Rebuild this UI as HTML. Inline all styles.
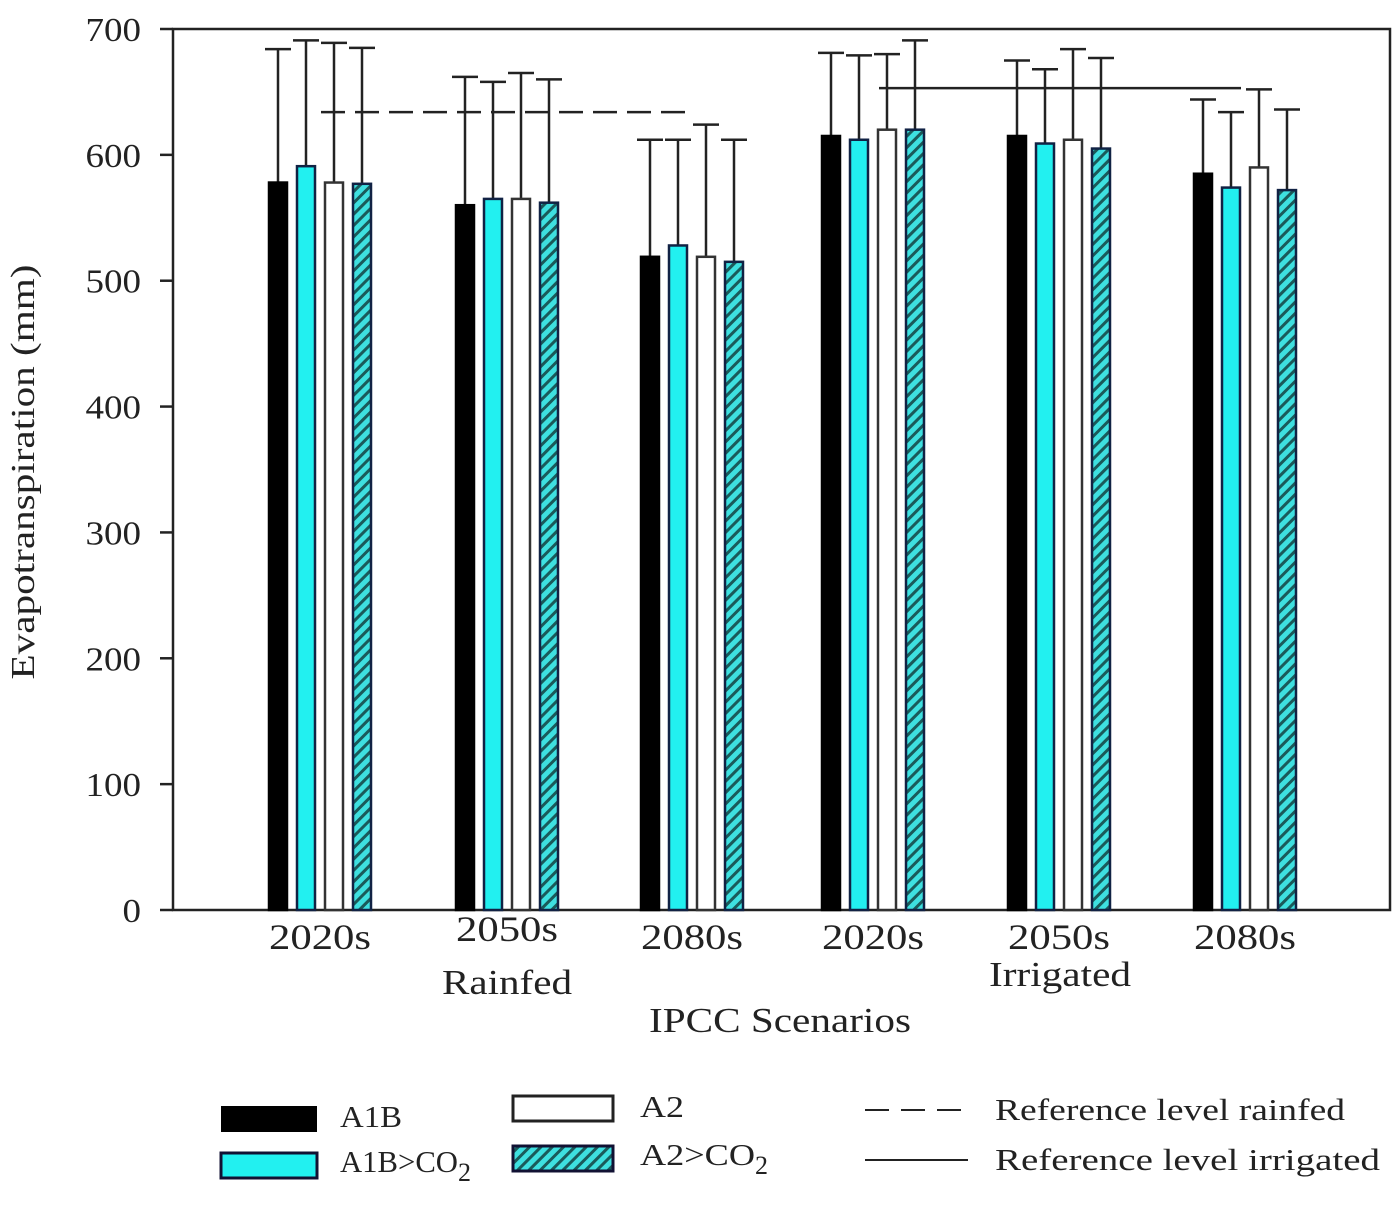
<!DOCTYPE html>
<html><head><meta charset="utf-8"><style>
html,body{margin:0;padding:0;background:#fff;}
svg text{font-family:"Liberation Serif",serif;fill:#222;}
</style></head><body>
<svg width="1400" height="1200" viewBox="0 0 1400 1200">
<defs>
<pattern id="hatch" patternUnits="userSpaceOnUse" width="8" height="8" patternTransform="rotate(45)">
<rect width="8" height="8" fill="#3ee0e0"/><rect width="3" height="8" fill="#1a5a5a"/>
</pattern>
</defs>
<g id="plot"></g>
<text x="34" y="472" font-size="34" text-anchor="middle" textLength="415" lengthAdjust="spacingAndGlyphs" transform="rotate(-90 34 472)">Evapotranspiration (mm)</text>
<text x="507" y="994" font-size="35" text-anchor="middle" textLength="130" lengthAdjust="spacingAndGlyphs">Rainfed</text>
<text x="1060" y="986" font-size="35" text-anchor="middle" textLength="142" lengthAdjust="spacingAndGlyphs">Irrigated</text>
<text x="780" y="1032" font-size="35" text-anchor="middle" textLength="262" lengthAdjust="spacingAndGlyphs">IPCC Scenarios</text>
<g>
<rect x="221" y="1106" width="96" height="26" fill="#000"/>
<text x="340" y="1127" font-size="31" textLength="62" lengthAdjust="spacingAndGlyphs">A1B</text>
<rect x="221" y="1153" width="96" height="25" fill="#22f0f0" stroke="#113" stroke-width="3"/>
<text x="340" y="1172" font-size="31"><tspan textLength="118" lengthAdjust="spacingAndGlyphs">A1B&gt;CO</tspan><tspan font-size="26" dy="9">2</tspan></text>
<rect x="513" y="1096" width="100" height="25" fill="#fff" stroke="#222" stroke-width="3"/>
<text x="640" y="1117" font-size="31" textLength="44" lengthAdjust="spacingAndGlyphs">A2</text>
<rect x="513" y="1146" width="100" height="25" fill="url(#hatch)" stroke="#113" stroke-width="3"/>
<text x="640" y="1165" font-size="31"><tspan textLength="115" lengthAdjust="spacingAndGlyphs">A2&gt;CO</tspan><tspan font-size="26" dy="9">2</tspan></text>
<line x1="865" y1="1110" x2="962" y2="1110" stroke="#222" stroke-width="2" stroke-dasharray="24,12"/>
<text x="995" y="1120" font-size="31" textLength="350" lengthAdjust="spacingAndGlyphs">Reference level rainfed</text>
<line x1="865" y1="1160" x2="968" y2="1160" stroke="#222" stroke-width="2"/>
<text x="995" y="1170" font-size="31" textLength="385" lengthAdjust="spacingAndGlyphs">Reference level irrigated</text>
</g>
</svg>
<script>
const categories = ["2020s","2050s","2080s","2020s","2050s","2080s"];
const a1b = [578,560,519,615,615,585];
const a1bCo2 = [591,565,528,612,609,574];
const a2 = [578,565,519,620,612,590];
const a2Co2 = [577,562,515,620,605,572];
const a1bErr = [684,662,612,681,675,644];
const a1bCo2Err = [691,658,612,679,668,634];
const a2Err = [689,665,624,680,684,652];
const a2Co2Err = [685,660,612,691,677,636];
const yTicks = [0,100,200,300,400,500,600,700];
const refRainfed = 634;
const refIrrigated = 653;

const NS = "http://www.w3.org/2000/svg";
const g = document.getElementById('plot');
const X0 = 173, X1 = 1390, Y0 = 910, Y1 = 29;
const y = v => Y0 - (v / 700) * (Y0 - Y1);
const groupCenters = [320, 507, 692, 873, 1059, 1245];
const x = (gi, si) => groupCenters[gi] + (si - 1.5) * 28;
function el(tag, attrs){ const e = document.createElementNS(NS, tag); for (const k in attrs) e.setAttribute(k, attrs[k]); g.appendChild(e); return e; }

let e = el('rect',{x:X0,y:Y1,width:X1-X0,height:Y0-Y1,fill:'none',stroke:'#222','stroke-width':2.5});



yTicks.forEach(t => {
  const l = el('line',{x1:X0-13,x2:X0,y1:y(t),y2:y(t),stroke:'#222','stroke-width':2.5});
  
  
  const tx = el('text',{x:141,y:y(t)+12,'font-size':34,'text-anchor':'end'});
  tx.textContent = t;
  tx.setAttribute('textLength', String(t).length * 18.5);
  tx.setAttribute('lengthAdjust','spacingAndGlyphs');
  
  
});

const series = [
  {vals:a1b, err:a1bErr, fill:'#000', stroke:'#000', name:'a1b'},
  {vals:a1bCo2, err:a1bCo2Err, fill:'#22f0f0', stroke:'#124', name:'a1b-co2'},
  {vals:a2, err:a2Err, fill:'#fff', stroke:'#333', name:'a2'},
  {vals:a2Co2, err:a2Co2Err, fill:'url(#hatch)', stroke:'#124', name:'a2-co2'}
];
series.forEach((s, si) => {
  s.vals.forEach((v, gi) => {
    const cx = x(gi, si);
    const ln = el('line',{x1:cx,x2:cx,y1:y(s.err[gi]),y2:y(v),stroke:'#222','stroke-width':2.5});
    
    
    const cap = el('line',{x1:cx-13,x2:cx+13,y1:y(s.err[gi]),y2:y(s.err[gi]),stroke:'#222','stroke-width':2.5});
    
    
    const r = el('rect',{x:cx-9,y:y(v),width:18,height:Y0-y(v),fill:s.fill,stroke:s.stroke,'stroke-width':2.5});
    
    
  });
});

categories.forEach((c, gi) => {
  const t = el('text',{x:groupCenters[gi],y:gi===1?941:949,'font-size':36,'text-anchor':'middle'});
  t.textContent = c;
  t.setAttribute('textLength', 102);
  t.setAttribute('lengthAdjust','spacingAndGlyphs');
  
  
});

let r1 = el('line',{x1:x(0,2)-13,x2:x(2,2)-13,y1:y(refRainfed),y2:y(refRainfed),stroke:'#222','stroke-width':2.5,'stroke-dasharray':'24,10'});


let r2 = el('line',{x1:x(3,2)-8,x2:x(5,2)-18,y1:y(refIrrigated),y2:y(refIrrigated),stroke:'#222','stroke-width':2.5});


</script>
</body></html>
